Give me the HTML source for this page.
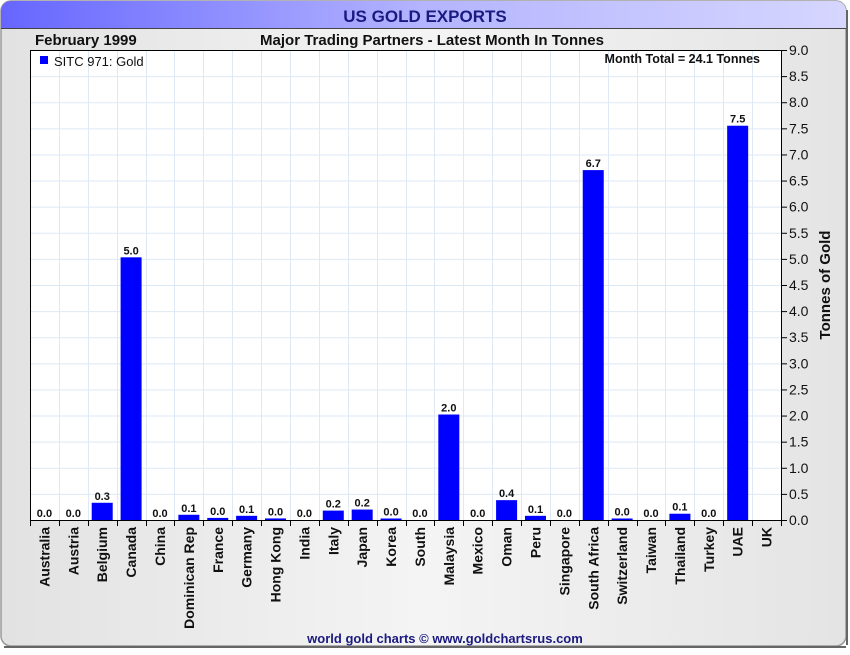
<!DOCTYPE html>
<html><head><meta charset="utf-8"><style>
body{margin:0;width:850px;height:650px;overflow:hidden;background:#fff;font-family:"Liberation Sans",sans-serif}
</style></head><body>
<svg id="c" width="850" height="650" xmlns="http://www.w3.org/2000/svg">
<defs>
<linearGradient id="tb" x1="0" x2="1"><stop offset="0" stop-color="#6666ff"/><stop offset="0.5" stop-color="#b4b4ff"/><stop offset="1" stop-color="#d6d6ff"/></linearGradient>
<linearGradient id="bg" x1="0" x2="1"><stop offset="0" stop-color="#e2e2e2"/><stop offset="0.5" stop-color="#f4f4f4"/><stop offset="1" stop-color="#e4e4e4"/></linearGradient>
</defs>
<rect x="1" y="1" width="845" height="645" rx="10" fill="url(#bg)" stroke="#999" stroke-width="1.5"/>
<line x1="4" y1="647" x2="846" y2="647" stroke="#666" stroke-width="2"/>
<line x1="847" y1="10" x2="847" y2="645" stroke="#666" stroke-width="2"/>
<path d="M1 28 V11 A10 10 0 0 1 11 1 H836 A10 10 0 0 1 846 11 V28 Z" fill="url(#tb)"/>
<line x1="1" y1="28.5" x2="846" y2="28.5" stroke="#444" stroke-width="1"/>
<text x="425" y="22" text-anchor="middle" font-size="17" font-weight="bold" fill="#1a1a80">US GOLD EXPORTS</text>
<text x="35" y="45" font-size="15" font-weight="bold" fill="#111">February 1999</text>
<text x="432" y="45" text-anchor="middle" font-size="15" font-weight="bold" fill="#111">Major Trading Partners - Latest Month In Tonnes</text>
<rect x="30" y="50" width="751" height="470" fill="#fff"/>
<g id="grid"></g><g id="bars"></g><g id="axes"></g>
<rect x="30.5" y="50.5" width="751" height="470" fill="none" stroke="#000" stroke-width="1"/>
<rect x="40" y="56" width="8" height="8" fill="#0000ff"/>
<text x="54" y="66" font-size="13" fill="#111">SITC 971: Gold</text>
<text x="760" y="63" text-anchor="end" font-size="12.5" font-weight="bold" fill="#111">Month Total = 24.1 Tonnes</text>
<text transform="translate(830,285) rotate(-90)" text-anchor="middle" font-size="15" font-weight="bold" fill="#111">Tonnes of Gold</text>
<text x="445" y="643" text-anchor="middle" font-size="13" font-weight="bold" fill="#1a1a80">world gold charts © www.goldchartsrus.com</text>
</svg>
<script>
const categories=["Australia","Austria","Belgium","Canada","China","Dominican Rep","France","Germany","Hong Kong","India","Italy","Japan","Korea","South","Malaysia","Mexico","Oman","Peru","Singapore","South Africa","Switzerland","Taiwan","Thailand","Turkey","UAE","UK"];
const values=[0,0,0.33,5.03,0,0.1,0.04,0.08,0.03,0,0.18,0.2,0.02,0,2.02,0,0.38,0.08,0,6.7,0.02,0,0.12,0,7.55,null];
const labels=["0.0","0.0","0.3","5.0","0.0","0.1","0.0","0.1","0.0","0.0","0.2","0.2","0.0","0.0","2.0","0.0","0.4","0.1","0.0","6.7","0.0","0.0","0.1","0.0","7.5",""];
const yTicks=[0,0.5,1,1.5,2,2.5,3,3.5,4,4.5,5,5.5,6,6.5,7,7.5,8,8.5,9];
const NS="http://www.w3.org/2000/svg";
const L=30,R=781,T=50,B=520,n=categories.length,bw=(R-L)/n;
const y=v=>B-(v/9)*(B-T);
const x=i=>L+i*bw;
function mk(t,a,p){const e=document.createElementNS(NS,t);for(const k in a)e.setAttribute(k,a[k]);p.appendChild(e);return e;}
const g=document.getElementById('grid'),bg=document.getElementById('bars'),ax=document.getElementById('axes');
yTicks.forEach(v=>{
 const l=mk('line',{x1:L,x2:R,y1:y(v)+0.5,y2:y(v)+0.5,stroke:'#dde9f5'},g);
 
 
 mk('line',{x1:R,x2:R+6,y1:y(v)+0.5,y2:y(v)+0.5,stroke:'#000'},ax);
 const t=mk('text',{x:R+8,y:y(v)+5,'font-size':14,fill:'#111'},ax);
 t.textContent=v.toFixed(1);
 
 
});
for(let i=1;i<n;i++){
 const l=mk('line',{x1:Math.round(x(i))+0.5,x2:Math.round(x(i))+0.5,y1:T,y2:B,stroke:'#dde9f5'},g);
 
 
}
for(let i=0;i<=n;i++) mk('line',{x1:Math.round(x(i))+0.5,x2:Math.round(x(i))+0.5,y1:B,y2:B+6,stroke:'#000'},ax);
categories.forEach((c,i)=>{
 const cx=x(i)+bw/2;
 const v=values[i];
 if(v!==null){
  const h=Math.max(B-y(v),v>0?1.5:0);
  const r=mk('rect',{x:cx-10.5,y:B-h,width:21,height:h,fill:'#0000ff'},bg);
  
  
  const t=mk('text',{x:cx,y:B-h-3,'text-anchor':'middle','font-size':11,'font-weight':'bold',fill:'#111'},bg);
  t.textContent=labels[i];
  
  
 }
 const t=mk('text',{transform:`translate(${cx+5},${B+7}) rotate(-90)`,'text-anchor':'end','font-size':14,'font-weight':'bold',fill:'#111'},ax);
 t.textContent=c;
 
 
});
</script>
</body></html>
